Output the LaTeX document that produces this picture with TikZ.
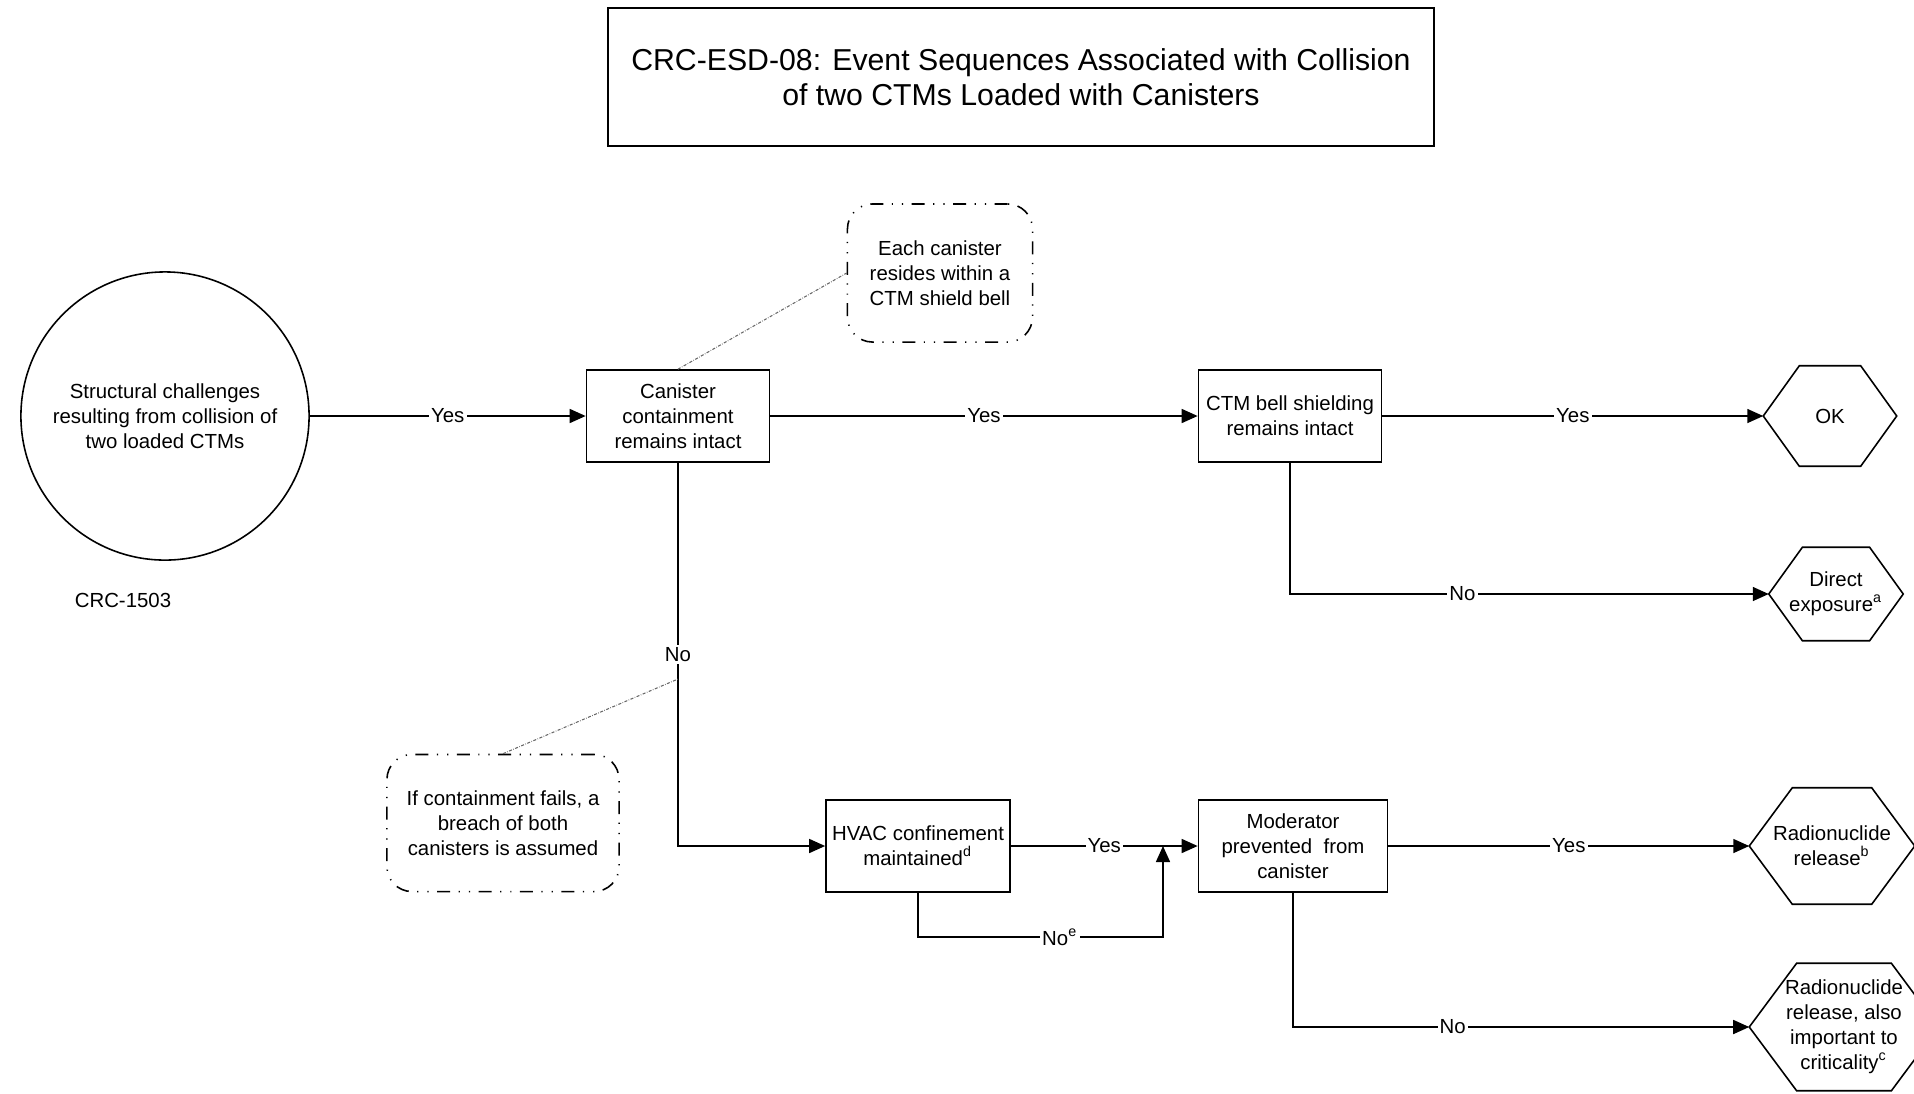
\documentclass[tikz,border=0pt]{standalone}
\usepackage{fontspec}
\setmainfont{Liberation Sans}
\usetikzlibrary{arrows.meta,calc}

\tikzset{
  every node/.style={font=\fontsize{5.8}{7.1}\selectfont},
  box/.style={draw, line width=0.45pt, minimum height=0.92cm, inner sep=1pt, align=center},
  note/.style={draw, line width=0.45pt, rounded corners=0.25cm, align=center,
    dash pattern=on 0.13cm off 0.085cm on 0.012cm off 0.09cm on 0.012cm off 0.085cm,
    minimum width=1.85cm, minimum height=1.38cm},
  hexa/.style={inner sep=0pt, align=center},
  arrow/.style={line width=0.45pt, -{Triangle[length=0.16cm,width=0.14cm]}},
  lbl/.style={fill=white, inner sep=0.6pt},
  link/.style={black!60, line width=0.3pt, dash pattern=on 0.03cm off 0.015cm on 0.006cm off 0.015cm},
}

\begin{document}
\begin{tikzpicture}[x=0.01cm, y=-0.01cm]
  \useasboundingbox (0,0) rectangle (1914,1093);

  \node[draw, line width=0.45pt, minimum width=8.26cm, minimum height=1.38cm, align=center,
        font=\fontsize{8.6}{10}\selectfont] (title) at (1021,77)
    {CRC-ESD-08: Event Sequences Associated with Collision\\of two CTMs Loaded with Canisters};

  % initiating event
  \node[draw, circle, line width=0.45pt, minimum size=2.88cm, align=center] (init) at (165,416)
    {Structural challenges\\resulting from collision of\\two loaded CTMs};
  \node (crcid) at (123,600) {CRC-1503};

  % top row
  \node[box, minimum width=1.83cm] (can) at (678,416) {Canister\\containment\\remains intact};
  \node[note] (note1) at (940,273) {Each canister\\resides within a\\CTM shield bell};
  \node[box, minimum width=1.83cm] (ctm) at (1290,416) {CTM bell shielding\\remains intact};
  \node[hexa, minimum width=1.32cm, minimum height=0.99cm] (ok) at (1830,416) {OK};
  \node[hexa, minimum width=1.33cm, minimum height=0.92cm] (dirx) at (1836,594) {Direct\\exposure\textsuperscript{a}};

  % lower row
  \coordinate (nlink) at (678,679);
  \node[note, minimum width=2.32cm, minimum height=1.37cm] (note2) at (503,823)
    {If containment fails, a\\breach of both\\canisters is assumed};
  \node[box, minimum width=1.84cm] (hvac) at (918,846) {HVAC confinement\\maintained\textsuperscript{d}};
  \node[box, minimum width=1.89cm] (mod) at (1293,846) {Moderator\\prevented\ \ from\\canister};
  \coordinate (merge) at (1163,846);
  \node[hexa, minimum width=1.64cm, minimum height=1.15cm] (rel) at (1832,846) {Radionuclide\\release\textsuperscript{b}};
  \node[hexa, minimum width=1.88cm, minimum height=1.26cm] (crit) at (1844,1027)
    {Radionuclide\\release, also\\important to\\criticality\textsuperscript{c}};

  % end state outlines
  \foreach \h/\f in {ok/0.27, dirx/0.25, rel/0.26, crit/0.25}
    \draw[line width=0.45pt] (\h.west) -- ($(\h.north west)!\f!(\h.north east)$)
      -- ($(\h.north east)!\f!(\h.north west)$) -- (\h.east)
      -- ($(\h.south east)!\f!(\h.south west)$) -- ($(\h.south west)!\f!(\h.south east)$) -- cycle;

  % branches
  \draw[arrow] (init) -- node[lbl]{Yes} (can);
  \draw[arrow] (can) -- node[lbl]{Yes} (ctm);
  \draw[arrow] (ctm) -- node[lbl]{Yes} (ok);
  \draw[arrow] (ctm) -- (ctm.south |- dirx) -- node[lbl, pos=0.36]{No} (dirx);
  \draw[arrow] (can) -- node[lbl]{No} (can.south |- hvac) -- (hvac);
  \draw[arrow] (hvac) -- node[lbl]{Yes} (mod);
  \draw[arrow] (hvac) -- ++(0,91) -| node[lbl, pos=0.29]{No\textsuperscript{e}} (merge);
  \draw[arrow] (mod) -- node[lbl]{Yes} (rel);
  \draw[arrow] (mod) -- (mod.south |- crit) -- node[lbl, pos=0.35]{No} (crit);

  % notes
  \draw[link] (can.north) -- (note1.west);
  \draw[link] (note2.north) -- (nlink);
\end{tikzpicture}
\end{document}
